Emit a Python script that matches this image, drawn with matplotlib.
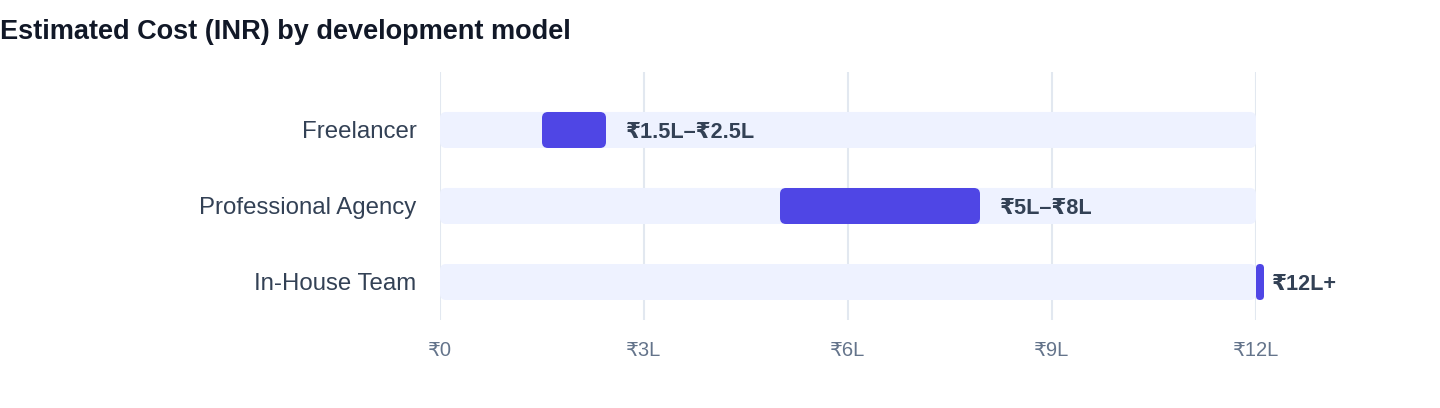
import matplotlib.pyplot as plt
from matplotlib.patches import FancyBboxPatch

plt.rcParams['font.family'] = ['Liberation Sans', 'DejaVu Sans']

models = ["Freelancer", "Professional Agency", "In-House Team"]
cost_lo = [1.5, 5.0, 12.0]   # lakh INR
cost_hi = [2.5, 8.0, 12.0]
cost_labels = ["₹1.5L–₹2.5L", "₹5L–₹8L", "₹12L+"]
track_max = 12
ticks = [0, 3, 6, 9, 12]
tick_labels = ["₹0", "₹3L", "₹6L", "₹9L", "₹12L"]

W, H = 1440, 408
fig = plt.figure(figsize=(W / 100, H / 100), dpi=100)
ax = fig.add_axes([440 / W, 1 - 320 / H, 816 / W, 248 / H])
ax.set_xlim(0, 12)
ax.set_ylim(2.5, -0.763)

px_x = 12 / 816.0   # data units per pixel
px_y = 3.263 / 248.0
aspect = px_y / px_x
bar_h = 36 * px_y


def rbar(x0, x1, y, color, z, r_px=6):
    w = x1 - x0
    r = min(r_px * px_x, w / 2)
    p = FancyBboxPatch((x0, y - bar_h / 2), w, bar_h,
                       boxstyle=f"round,pad=0,rounding_size={r}",
                       mutation_aspect=aspect, fc=color, ec="none", zorder=z,
                       clip_on=False)
    ax.add_patch(p)


for t in ticks:
    ax.axvline(t, color="#E2E8F0", lw=1.5, zorder=0)

for i, m in enumerate(models):
    rbar(0, track_max, i, "#EEF2FF", 1)
    x1 = max(cost_hi[i] - 4 * px_x, cost_lo[i] + 8 * px_x)
    rbar(cost_lo[i], x1, i, "#4F46E5", 2)
    ax.text(cost_hi[i] + 16 * px_x, i, cost_labels[i], va="center_baseline", ha="left",
            fontsize=15.6, fontweight="bold", color="#334155", clip_on=False)

ax.set_yticks(range(len(models)))
ax.set_yticklabels(models, fontsize=17.3, color="#334155")
ax.set_xticks(ticks)
ax.set_xticklabels(tick_labels, fontsize=14.5, color="#64748B")
ax.tick_params(axis="y", length=0, pad=17)
ax.tick_params(axis="x", length=0, pad=15)
for s in ax.spines.values():
    s.set_visible(False)

fig.text(0, 1 - 32 / H, "Estimated Cost (INR) by development model",
         fontsize=19.5, fontweight="bold", color="#111827", va="center", ha="left")

fig.savefig("out.png", dpi=100)
